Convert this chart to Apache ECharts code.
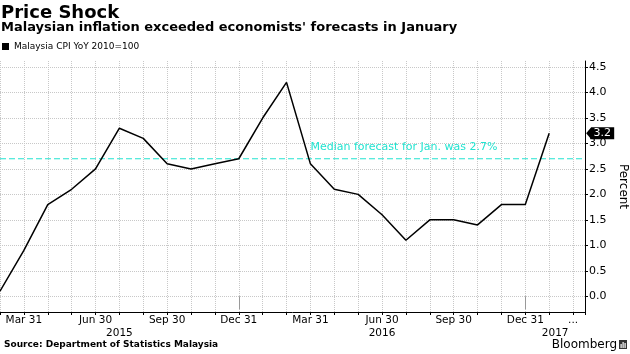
<!DOCTYPE html>
<html><head><meta charset="utf-8">
<script src="https://cdn.jsdelivr.net/npm/echarts@6/dist/echarts.min.js"></script>
<style>html,body{margin:0;padding:0;background:#fff}#c{width:630px;height:354px}</style>
</head><body><div id="c"></div>
<script>
// ---- data ----
const months = ['2015-02','2015-03','2015-04','2015-05','2015-06','2015-07','2015-08','2015-09','2015-10','2015-11','2015-12',
  '2016-01','2016-02','2016-03','2016-04','2016-05','2016-06','2016-07','2016-08','2016-09','2016-10','2016-11','2016-12',
  '2017-01','2017-02'];
const cpi = [0.1,0.9,1.8,2.1,2.5,3.3,3.1,2.6,2.5,2.6,2.7,3.5,4.2,2.6,2.1,2.0,1.6,1.1,1.5,1.5,1.4,1.8,1.8,3.2];
const tickMonths = ['2015-03','2015-06','2015-09','2015-12','2016-03','2016-06','2016-09','2016-12','2017-02'];
const tickLabels = ['Mar 31','Jun 30','Sep 30','Dec 31','Mar 31','Jun 30','Sep 30','Dec 31','...'];
const years = ['2015','2016','2017'];
const yTicks = [0,0.5,1,1.5,2,2.5,3,3.5,4,4.5];
const forecast = 2.7;
const forecastText = 'Median forecast for Jan. was 2.7%';
const forecastTextMonth = '2016-03';
const seriesName = 'Malaysia CPI YoY 2010=100';

// ---- derived ----
const xMin = 0, xMax = months.length - 0.5;
const labelMap = {};
tickMonths.forEach((m, i) => { labelMap[months.indexOf(m)] = tickLabels[i]; });
const yearRanges = years.map(y => {
  const prevDec = months.indexOf((+y - 1) + '-12');
  const dec = months.indexOf(y + '-12');
  return [prevDec < 0 ? xMin : prevDec, dec < 0 ? xMax : dec];
});
const yearCenters = yearRanges.map(r => (r[0] + r[1]) / 2);
const separators = yearRanges.slice(0, -1).map(r => r[1]);
const lineData = cpi.map((v, i) => [i, v]);
const last = lineData[lineData.length - 1];
const FONT = '"DejaVu Sans", Verdana, sans-serif';
const CYAN = '#22e3d0';

const chart = echarts.init(document.getElementById('c'), null, {renderer: 'canvas'});
chart.setOption({
  animation: false,
  backgroundColor: '#fff',
  grid: {left: 0, right: 45, top: 61, bottom: 42, containLabel: false, outerBoundsMode: 'none'},
  legend: {
    data: [seriesName], left: 2, top: 42, padding: 0, icon: 'rect', itemWidth: 7, itemHeight: 7,
    textStyle: {fontSize: 9, color: '#000', fontFamily: FONT}
  },
  xAxis: [{
    type: 'value', min: xMin, max: xMax, interval: 1, position: 'bottom',
    axisLine: {show: true, onZero: false, lineStyle: {color: '#000', width: 1}},
    axisTick: {show: true, length: 3, lineStyle: {color: '#000'}},
    axisLabel: {formatter: v => labelMap[v] || '', margin: 3, fontSize: 10.5, color: '#000', fontFamily: FONT,
      showMinLabel: true, showMaxLabel: true},
    splitLine: {show: true, lineStyle: {color: '#c8c8c8', type: 'dotted', width: 1}}
  }, {
    type: 'value', min: xMin, max: xMax, position: 'bottom', offset: 15,
    axisLine: {show: false},
    axisTick: {show: true, customValues: separators, length: 13, lineStyle: {color: '#999'}},
    axisLabel: {customValues: yearCenters, formatter: v => years[yearCenters.indexOf(v)] || '', margin: 1,
      fontSize: 10.5, color: '#000', fontFamily: FONT},
    splitLine: {show: false}
  }],
  yAxis: {
    type: 'value', position: 'right', min: -0.31, max: 4.62,
    axisLine: {show: true, onZero: false, lineStyle: {color: '#000'}},
    axisTick: {show: true, customValues: yTicks, length: 3, lineStyle: {color: '#000'}},
    axisLabel: {customValues: yTicks, formatter: v => v.toFixed(1), margin: 4, fontSize: 11, color: '#000', fontFamily: FONT},
    splitLine: {show: true, lineStyle: {color: '#c8c8c8', type: 'dotted', width: 1}},
    name: 'Percent', nameLocation: 'middle', nameRotate: -90, nameGap: 30,
    nameTextStyle: {fontSize: 12, color: '#000', fontFamily: FONT}
  },
  series: [{
    name: 'forecast', type: 'line', data: [[xMin, forecast], [xMax, forecast]], showSymbol: false, symbol: 'none',
    silent: true, z: 1, lineStyle: {color: CYAN, type: [6, 3], width: 1}, itemStyle: {color: CYAN},
    markPoint: {
      silent: true,
      data: [{
        coord: [months.indexOf(forecastTextMonth), forecast], symbol: 'circle', symbolSize: 0,
        label: {show: true, formatter: forecastText, position: [0, -12], align: 'left', verticalAlign: 'middle',
          color: CYAN, fontSize: 11, fontFamily: FONT}
      }]
    }
  }, {
    name: seriesName, type: 'line', data: lineData, showSymbol: false, symbol: 'none', clip: false, z: 3,
    lineStyle: {color: '#000', width: 1.5}, itemStyle: {color: '#000'},
    markPoint: {
      silent: true,
      data: [{
        coord: last, value: last[1], symbol: 'path://M0,6L5,0L28,0L28,12L5,12Z', symbolSize: [28, 12],
        symbolKeepAspect: false, symbolOffset: [51, 0], itemStyle: {color: '#000'},
        label: {show: true, formatter: p => p.value.toFixed(1), position: 'inside', offset: [2, 0],
          color: '#fff', fontSize: 11, fontFamily: FONT}
      }]
    }
  }],
  graphic: [
    {type: 'text', x: 1, y: 13, style: {text: 'Price Shock', font: 'bold 18px ' + FONT, fill: '#000', verticalAlign: 'middle'}},
    {type: 'text', x: 1, y: 28, style: {text: "Malaysian inflation exceeded economists' forecasts in January", font: 'bold 13px ' + FONT, fill: '#000', verticalAlign: 'middle'}},
    {type: 'text', x: 4, y: 345, style: {text: 'Source: Department of Statistics Malaysia', font: 'bold 9px ' + FONT, fill: '#000', verticalAlign: 'middle'}},
    {type: 'text', x: 617, y: 345, style: {text: 'Bloomberg', font: '12px ' + FONT, fill: '#000', align: 'right', verticalAlign: 'middle'}},
    {type: 'rect', shape: {x: 619, y: 340, width: 8, height: 9}, style: {fill: '#333'}},
    {type: 'rect', shape: {x: 620.5, y: 344, width: 1.2, height: 4}, style: {fill: '#fff'}},
    {type: 'rect', shape: {x: 622.5, y: 342, width: 1.2, height: 6}, style: {fill: '#fff'}},
    {type: 'rect', shape: {x: 624.5, y: 343, width: 1.2, height: 5}, style: {fill: '#fff'}}
  ]
});
</script>
</body></html>
